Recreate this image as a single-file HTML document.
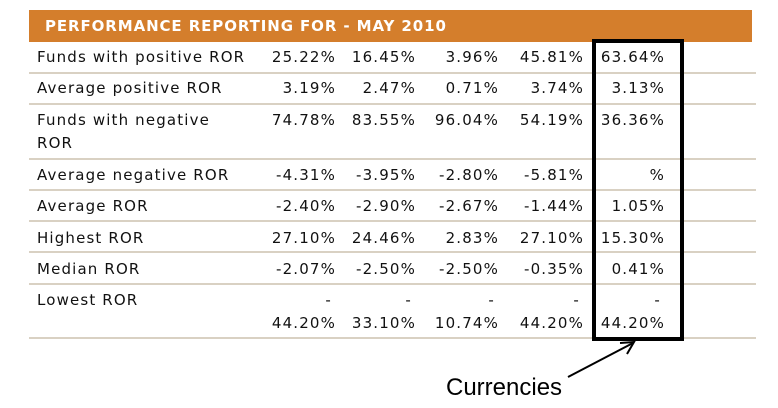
<!DOCTYPE html>
<html><head><meta charset="utf-8">
<style>
body{margin:0;width:778px;height:408px;background:#fff;position:relative;overflow:hidden;font-family:"DejaVu Sans","Liberation Sans",sans-serif;}
.hdr{position:absolute;left:29px;top:10px;width:723px;height:32px;background:#d47e2c;}
.hdr span{position:absolute;left:16px;top:7px;color:#fff;font-weight:bold;font-size:15px;letter-spacing:0.9px;}
.t{position:absolute;font-size:15px;color:#111;letter-spacing:1.15px;white-space:nowrap;line-height:16px;}
.sep{position:absolute;left:29px;width:727px;height:2px;background:#d9d1c3;}
</style></head><body>
<div class="hdr"><span>PERFORMANCE REPORTING FOR - MAY 2010</span></div>
<div id="tbl"></div>
<svg style="position:absolute;left:0;top:0" width="778" height="408">
<rect x="594" y="41" width="88" height="298" fill="none" stroke="#000" stroke-width="4"/>
<line x1="568" y1="377" x2="633" y2="343" stroke="#000" stroke-width="2"/>
<polyline points="620,343 634,342 627,354" fill="none" stroke="#000" stroke-width="2"/>
<text x="446" y="395" font-family="Liberation Sans, sans-serif" font-size="24" fill="#000">Currencies</text>
</svg>
<script>
const labels=[["Funds with positive ROR"],["Average positive ROR"],["Funds with negative","ROR"],["Average negative ROR"],["Average ROR"],["Highest ROR"],["Median ROR"],["Lowest ROR"]];
const col1=[["25.22%"],["3.19%"],["74.78%"],["-4.31%"],["-2.40%"],["27.10%"],["-2.07%"],["-","44.20%"]];
const col2=[["16.45%"],["2.47%"],["83.55%"],["-3.95%"],["-2.90%"],["24.46%"],["-2.50%"],["-","33.10%"]];
const col3=[["3.96%"],["0.71%"],["96.04%"],["-2.80%"],["-2.67%"],["2.83%"],["-2.50%"],["-","10.74%"]];
const col4=[["45.81%"],["3.74%"],["54.19%"],["-5.81%"],["-1.44%"],["27.10%"],["-0.35%"],["-","44.20%"]];
const col5=[["63.64%"],["3.13%"],["36.36%"],["%"],["1.05%"],["15.30%"],["0.41%"],["-","44.20%"]];
const rowTops=[49,80,112,167,198,230,261,292];
const seps=[72,103,158,189,220,251,283,337];
const colRight=[335,415,498,583,664];
const tbl=document.getElementById('tbl');
function txt(s,x,y,right,name){
  const d=document.createElement('div');
  d.className='t';
  
  
  d.textContent=s;
  d.style.top=y+'px';
  if(right){d.style.right=(778-x-1)+'px';}else{d.style.left=x+'px';}
  tbl.appendChild(d);
}
labels.forEach((l,i)=>l.forEach((s,j)=>txt(s,37,rowTops[i]+j*23,false,'row-label')));
[col1,col2,col3,col4,col5].forEach((c,ci)=>c.forEach((v,i)=>v.forEach((s,j)=>txt(s,colRight[ci]-(s==='-'?4:0),rowTops[i]+j*23,true,'cell-value'))));
seps.forEach(y=>{
  const d=document.createElement('div');
  d.className='sep';
  
  
  d.style.top=y+'px';
  tbl.appendChild(d);
});
</script>
</body></html>
